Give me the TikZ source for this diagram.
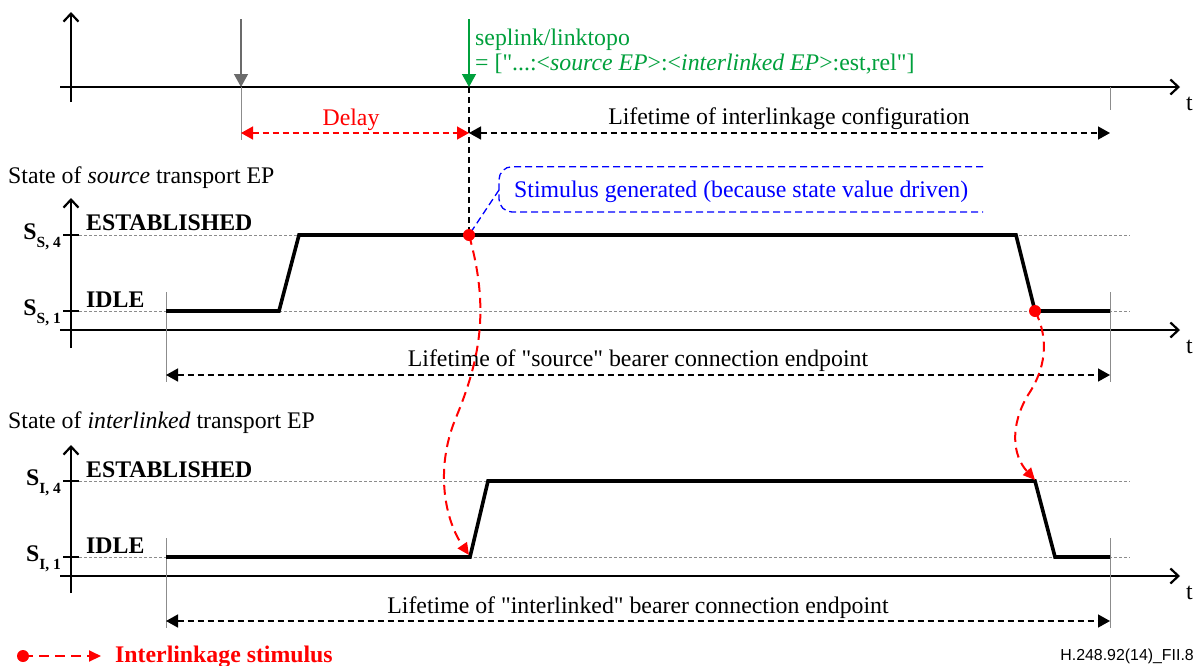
\documentclass[tikz,border=0pt]{standalone}
\usepackage{fontspec}
\setmainfont{Liberation Serif}
\newfontfamily\figsans{Liberation Sans}
\usetikzlibrary{arrows.meta}
\definecolor{sigred}{RGB}{255,0,0}
\definecolor{siggreen}{RGB}{0,160,60}
\definecolor{sigblue}{RGB}{0,0,255}
\definecolor{guide}{gray}{0.55}
\definecolor{cmdgray}{gray}{0.42}
% straight double quote, from a font loaded without the TeX ligature mapping
\font\quotefnt="Liberation Serif" at 23.8pt
\newcommand{\sq}{{\quotefnt\char34}}

\begin{document}
\begin{tikzpicture}[x=1pt,y=-1pt,
  txt/.style={font=\fontsize{23.8}{26}\selectfont, inner sep=0pt},
  boldtxt/.style={font=\fontsize{23.8}{26}\selectfont\bfseries, inner sep=0pt},
  axisline/.style={line width=1.6pt, -{Straight Barb[length=8pt,width=15pt,line width=2.2pt]}},
  axtick/.style={line width=1.6pt},
  levelline/.style={guide, line width=0.9pt, dash pattern=on 3pt off 2pt},
  signal/.style={line width=3.6pt, line join=miter},
  marker/.style={guide, line width=1pt},
  span/.style={line width=1.5pt, dash pattern=on 6pt off 4pt,
    {Triangle[length=12pt,width=13pt]}-{Triangle[length=12pt,width=13pt]}},
  stim/.style={sigred, line width=2pt, dash pattern=on 10pt off 6pt,
    -{Triangle[length=12pt,width=11pt]}},
  dot/.style={circle, fill=sigred, inner sep=0pt, minimum size=12pt},
  callout/.style={sigblue, line width=1.3pt, dash pattern=on 7pt off 4pt},
  cmd/.style={line width=1.3pt, -{Triangle[length=13pt,width=14pt]}},
]
\fill[white] (0,0) rectangle (1202,665);
\useasboundingbox (0,0) rectangle (1202,665);

% ---------- command time line ----------
\draw[axisline] (71,102) -- (71,12);
\draw[axisline] (60,87) -- (1180,87);
\node[txt, anchor=base west] (tcmd) at (1186,110) {t};

\coordinate (g0) at (241,19);
\coordinate (g1) at (241,87);
\coordinate (g2) at (241,140);
\draw[cmd, cmdgray] (g0) -- (g1);
\draw[marker] (g1) -- (g2);

\coordinate (c0) at (469,19);
\coordinate (c1) at (469,87);
\coordinate (d1) at (469,235);
\draw[cmd, siggreen] (c0) -- (c1);
\draw[line width=1.2pt, dash pattern=on 6pt off 4pt] (c1) -- (d1);
\node[txt, text=siggreen, anchor=base west] (cmd1) at (475,45) {seplink/linktopo};
\node[txt, text=siggreen, anchor=base west] (cmd2) at (475,70)
  {= [\sq...:<\textit{source EP}>:<\textit{interlinked EP}>:est,rel\sq]};

\coordinate (e0) at (1110,87);
\coordinate (e1) at (1110,110);
\draw[marker] (e0) -- (e1);

\coordinate (dl) at (241,133);
\coordinate (dm) at (469,133);
\coordinate (dr) at (1110,133);
\draw[span, sigred] (dl) -- (dm);
\draw[span] (dm) -- (dr);
\node[txt, text=sigred, anchor=base] (delay) at (351,125) {Delay};
\node[txt, anchor=base] (cfglife) at (789,124) {Lifetime of interlinkage configuration};

% ---------- source transport EP ----------
\node[txt, anchor=base west] (srctitle) at (8,183) {State of \textit{source} transport EP};
\draw[axisline] (71,348) -- (71,198);
\draw[axisline] (60,330) -- (1180,330);
\node[txt, anchor=base west] (tsrc) at (1186,353) {t};
\draw[axtick] (63,235) -- (79,235);
\draw[axtick] (63,311) -- (79,311);
\draw[levelline] (79,235) -- (1130,235);
\draw[levelline] (79,311) -- (1130,311);
\node[boldtxt, anchor=base east] (ss4) at (61,239) {S\raisebox{-8pt}{\fontsize{15.5}{16}\selectfont S, 4}};
\node[boldtxt, anchor=base east] (ss1) at (61,315) {S\raisebox{-8pt}{\fontsize{15.5}{16}\selectfont S, 1}};
\node[boldtxt, anchor=base west] (sest) at (86,230) {ESTABLISHED};
\node[boldtxt, anchor=base west] (sidle) at (86,307) {IDLE};

\draw[marker] (166,292) -- (166,382);
\draw[marker] (1110,292) -- (1110,382);
\coordinate (d2) at (1035,311);
\draw[signal] (166,311) -- (279,311) -- (299,235) -- (1016,235) -- (d2) -- (1110,311);
\draw[span] (166,375) -- (1110,375);
\node[txt, anchor=base] (srclife) at (638,366) {Lifetime of \sq source\sq{} bearer connection endpoint};

% stimulus callout
\draw[callout, rounded corners=13pt] (983,166.7) -- (499,166.7) -- (499,212) -- (983,212);
\coordinate (cp) at (499,190);
\draw[callout] (cp) -- (d1);
\node[txt, text=sigblue, anchor=base west] (stimtxt) at (514,197)
  {Stimulus generated (because state value driven)};

% ---------- interlinked transport EP ----------
\node[txt, anchor=base west] (ilktitle) at (8,428) {State of \textit{interlinked} transport EP};
\draw[axisline] (71,593) -- (71,445);
\draw[axisline] (60,576) -- (1180,576);
\node[txt, anchor=base west] (tilk) at (1186,599) {t};
\draw[axtick] (63,481) -- (79,481);
\draw[axtick] (63,557) -- (79,557);
\draw[levelline] (79,481) -- (1130,481);
\draw[levelline] (79,557) -- (1130,557);
\node[boldtxt, anchor=base east] (si4) at (61,485) {S\raisebox{-8pt}{\fontsize{15.5}{16}\selectfont I, 4}};
\node[boldtxt, anchor=base east] (si1) at (61,561) {S\raisebox{-8pt}{\fontsize{15.5}{16}\selectfont I, 1}};
\node[boldtxt, anchor=base west] (iest) at (86,477) {ESTABLISHED};
\node[boldtxt, anchor=base west] (iidle) at (86,553) {IDLE};

\draw[marker] (166,538) -- (166,628);
\draw[marker] (1110,538) -- (1110,628);
\coordinate (i1) at (469,555);
\coordinate (i2) at (1035,480);
\draw[signal] (166,557) -- (470,557) -- (488,481) -- (1035,481) -- (1055,557) -- (1110,557);
\draw[span] (166,621) -- (1110,621);
\node[txt, anchor=base] (ilklife) at (638,613) {Lifetime of \sq interlinked\sq{} bearer connection endpoint};

% ---------- interlinkage stimuli ----------
\draw[stim] (d1) .. controls (490,310) and (480,360) .. (455,420)
                 .. controls (435,470) and (445,520) .. (i1);
\draw[stim] (d2) .. controls (1050,340) and (1045,370) .. (1028,395)
                 .. controls (1010,425) and (1012,455) .. (i2);
\node[dot] at (d1) {};
\node[dot] at (d2) {};

% ---------- legend and figure tag ----------
\node[dot] (legdot) at (23,656) {};
\coordinate (legtip) at (101,656);
\draw[stim] (legdot.center) -- (legtip);
\node[boldtxt, text=sigred, anchor=base west] (legtxt) at (115,662) {Interlinkage stimulus};
\node[font=\figsans\fontsize{15.9}{18}\selectfont, anchor=base east, inner sep=0pt] (tag)
  at (1194,660) {H.248.92(14)\_FII.8};
\end{tikzpicture}
\end{document}
